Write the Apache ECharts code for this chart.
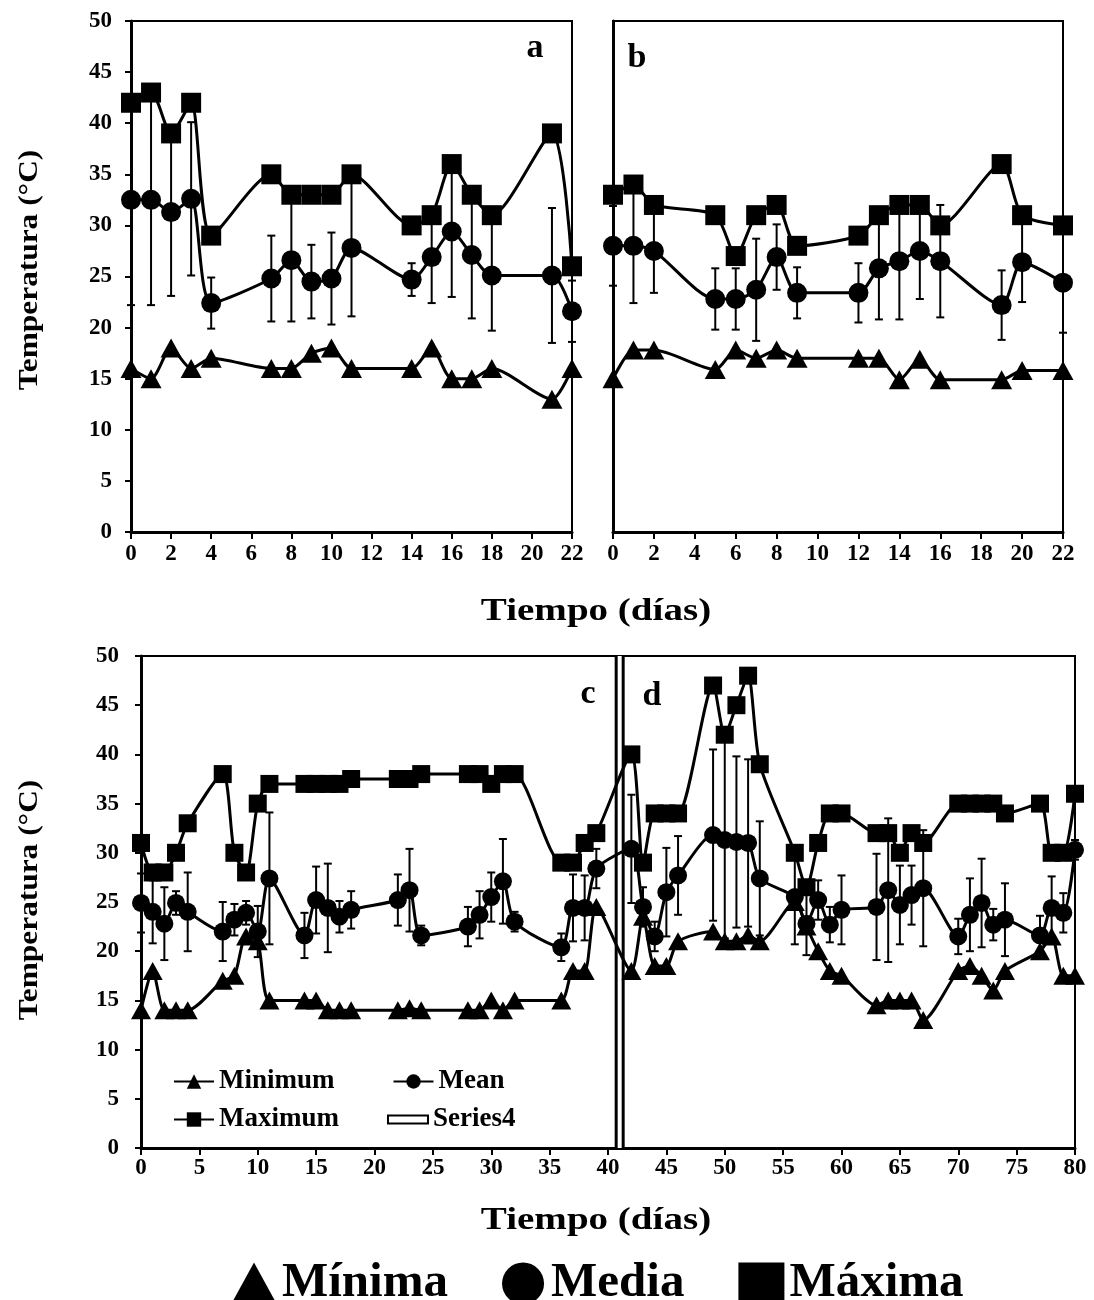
<!DOCTYPE html>
<html>
<head>
<meta charset="utf-8">
<script src="https://cdn.jsdelivr.net/npm/echarts/dist/echarts.min.js"></script>
<style>
  body { margin: 0; background: #fff; }
  #main { width: 1094px; height: 1300px; }
</style>
</head>
<body>
<div id="main"></div>
<script>
// panel a
var aDays = [0, 1, 2, 3, 4, 7, 8, 9, 10, 11, 14, 15, 16, 17, 18, 21, 22];
var aMin  = [16, 15, 18, 16, 17, 16, 16, 17.5, 18, 16, 16, 18, 15, 15, 16, 13, 16];
var aMean = [32.5, 32.5, 31.3, 32.6, 22.4, 24.8, 26.6, 24.5, 24.8, 27.8, 24.7, 26.9, 29.4, 27.1, 25.1, 25.1, 21.6];
var aMax  = [42, 43, 39, 42, 29, 35, 33, 33, 33, 35, 30, 31, 36, 33, 31, 39, 26];
var aSd   = [10.3, 10.3, 8.2, 7.5, 2.5, 4.2, 6, 3.6, 4.5, 6.7, 1.6, 4.5, 6.4, 6.2, 5.4, 6.6, 3];

// panel b
var bDays = [0, 1, 2, 5, 6, 7, 8, 9, 12, 13, 14, 15, 16, 19, 20, 22];
var bMin  = [15, 17.8, 17.8, 15.9, 17.8, 17, 17.8, 17, 17, 17, 14.9, 16.9, 14.9, 14.9, 15.8, 15.8];
var bMean = [28, 28, 27.5, 22.8, 22.8, 23.7, 26.9, 23.4, 23.4, 25.8, 26.5, 27.5, 26.5, 22.2, 26.4, 24.4];
var bMax  = [33, 34, 32, 31, 27, 31, 32, 28, 29, 31, 32, 32, 30, 36, 31, 30];
var bSd   = [3.9, 5.6, 4.1, 3, 3, 5, 3.2, 2.5, 2.9, 5, 5.7, 4.7, 5.5, 3.4, 3.9, 4.9];

// panels c + d (shared axis)
var cdDays = [0, 1, 2, 3, 4, 7, 8, 9, 10, 11, 14, 15, 16, 17, 18, 22, 23, 24, 28, 29, 30, 31, 32,
  36, 37, 38, 39, 42, 43, 44, 45, 46, 49, 50, 51, 52, 53, 56, 57, 58, 59, 60,
  63, 64, 65, 66, 67, 70, 71, 72, 73, 74, 77, 78, 79, 80];
var cdMin = [14, 18, 14, 14, 14, 17, 17.5, 21.5, 21, 15, 15, 15, 14, 14, 14, 14, 14.2, 14, 14, 14, 15, 14, 15,
  15, 18, 18, 24.5, 18, 23.5, 18.5, 18.5, 21, 22, 21, 21, 21.6, 21, 25, 22.5, 20, 18, 17.5,
  14.5, 15, 15, 15, 13, 18, 18.5, 17.5, 16, 18, 20, 21.5, 17.5, 17.5];
var cdMean = [24.9, 24.0, 22.8, 24.9, 24.0, 22.0, 23.2, 23.9, 22.0, 27.4, 21.6, 25.2, 24.4, 23.5, 24.2, 25.2, 26.2, 21.6,
  22.5, 23.7, 25.5, 27.1, 23.0, 20.4, 24.4, 24.4, 28.4, 30.4, 24.5, 21.5, 26.0, 27.7, 31.8, 31.3, 31.1, 31.0, 27.4,
  25.5, 22.8, 25.2, 22.7, 24.2, 24.5, 26.2, 24.7, 25.7, 26.4, 21.5, 23.7, 24.9, 22.7, 23.2, 21.6, 24.4, 23.9, 30.3];
var cdMax = [31, 28, 28, 30, 33, 38, 30, 28, 35, 37, 37, 37, 37, 37, 37.5, 37.5, 37.5, 38, 38, 38, 37, 38, 38,
  29, 29, 31, 32, 40, 29, 34, 34, 34, 47, 42, 45, 48, 39, 30, 26.5, 31, 34, 34,
  32, 32, 30, 32, 31, 35, 35, 35, 35, 34, 35, 30, 30, 36];
var cdSd = [3, 3.2, 3.7, 1.2, 4, 3, 1.6, 1.2, 2.6, 6.7, 2.3, 3.4, 4.5, 1.6, 1.9, 2.6, 4.2, 1, 2, 2.4, 2.5, 4.3, 1,
  1.4, 3.4, 3.3, 2, 5.5, 2, 1.5, 4.5, 4, 8.7, 10, 8.7, 8.5, 5.8, 4.8, 3.2, 2, 1.8, 3.5,
  5.4, 7.3, 4, 3, 5.9, 1.8, 3.7, 4.5, 1.6, 3.7, 2, 3.2, 2, 1];

// Series4: the divider between c and d
var s4Days = [41, 41];
var s4Vals = [0, 50];

var FONT = 'Liberation Serif';

function pairs(xs, ys) {
  return xs.map(function (x, i) { return [x, ys[i]]; });
}
function bars(xs, mean, sd) {
  return xs.map(function (x, i) { return [x, mean[i] - sd[i], mean[i] + sd[i]]; });
}

function errorItem(params, api) {
  var x = api.value(0);
  var top = api.coord([x, api.value(2)]);
  var bot = api.coord([x, api.value(1)]);
  var w = 4;
  var st = { stroke: '#000', lineWidth: 2 };
  return {
    type: 'group',
    children: [
      { type: 'line', shape: { x1: top[0], y1: top[1], x2: bot[0], y2: bot[1] }, style: st },
      { type: 'line', shape: { x1: top[0] - w, y1: top[1], x2: top[0] + w, y2: top[1] }, style: st },
      { type: 'line', shape: { x1: bot[0] - w, y1: bot[1], x2: bot[0] + w, y2: bot[1] }, style: st }
    ]
  };
}

function line(name, sym, size, data, gi) {
  return {
    name: name, type: 'line', xAxisIndex: gi, yAxisIndex: gi,
    data: data, symbol: sym, symbolSize: size, smooth: 0.25,
    itemStyle: { color: '#000' },
    lineStyle: { color: '#000', width: 3 },
    z: 2
  };
}
function errs(data, gi) {
  return {
    type: 'custom', xAxisIndex: gi, yAxisIndex: gi,
    renderItem: errorItem, data: data, encode: { x: 0, y: [1, 2] }, z: 3
  };
}

var lbl = { color: '#000', fontFamily: FONT, fontWeight: 'bold', fontSize: 23 };
var axLine = { show: true, lineStyle: { color: '#000', width: 3 } };

function xAx(gi, max, interval, margin) {
  return {
    type: 'value', gridIndex: gi, min: 0, max: max, interval: interval,
    axisLine: axLine, splitLine: { show: false },
    axisTick: { show: true, length: 7, lineStyle: { color: '#000', width: 2 } },
    axisLabel: Object.assign({ margin: margin }, lbl)
  };
}
function yAx(gi, showLabels, margin) {
  return {
    type: 'value', gridIndex: gi, min: 0, max: 50, interval: 5,
    axisLine: axLine, splitLine: { show: false },
    axisTick: { show: showLabels, length: 6, inside: false, lineStyle: { color: '#000', width: 2 } },
    axisLabel: Object.assign({ show: showLabels, margin: margin }, lbl)
  };
}

var chart = echarts.init(document.getElementById('main'));

var series = [
  errs(bars(aDays, aMean, aSd), 0),
  line('Mínima', 'triangle', [21, 19], pairs(aDays, aMin), 0),
  line('Media', 'circle', 20, pairs(aDays, aMean), 0),
  line('Máxima', 'rect', 20, pairs(aDays, aMax), 0),

  errs(bars(bDays, bMean, bSd), 1),
  line('Mínima', 'triangle', [21, 19], pairs(bDays, bMin), 1),
  line('Media', 'circle', 20, pairs(bDays, bMean), 1),
  line('Máxima', 'rect', 20, pairs(bDays, bMax), 1),

  {
    name: 'Series4', type: 'line', xAxisIndex: 2, yAxisIndex: 2,
    data: pairs(s4Days, s4Vals), symbol: 'none',
    lineStyle: { color: '#000', width: 10 }, itemStyle: { color: '#000' }, z: 1
  },
  {
    name: 'Series4', type: 'line', xAxisIndex: 2, yAxisIndex: 2,
    data: pairs(s4Days, s4Vals), symbol: 'none',
    lineStyle: { color: '#fff', width: 4 }, itemStyle: { color: '#fff' }, z: 1
  },
  errs(bars(cdDays, cdMean, cdSd), 2),
  line('Minimum', 'triangle', [20, 18], pairs(cdDays, cdMin), 2),
  line('Mean', 'circle', 18, pairs(cdDays, cdMean), 2),
  line('Maximum', 'rect', 18, pairs(cdDays, cdMax), 2)
];

var boldText = function (text, x, y, size, extra) {
  return Object.assign({
    type: 'text', x: x, y: y,
    style: {
      text: text, fill: '#000', font: 'bold ' + size + 'px "' + FONT + '"',
      textAlign: 'center', textVerticalAlign: 'middle'
    }
  }, extra || {});
};

var option = {
  animation: false,
  backgroundColor: '#fff',
  grid: [
    { left: 131, top: 21, width: 441, height: 511, show: true, borderColor: '#000', borderWidth: 2 },
    { left: 613, top: 21, width: 450, height: 511, show: true, borderColor: '#000', borderWidth: 2 },
    { left: 141, top: 656, width: 934, height: 492, show: true, borderColor: '#000', borderWidth: 2 }
  ],
  xAxis: [xAx(0, 22, 2, 11), xAx(1, 22, 2, 11), xAx(2, 80, 5, 9)],
  yAxis: [yAx(0, true, 19), yAx(1, false, 19), yAx(2, true, 22)],
  legend: [
    {
      left: 226, top: 1254, itemWidth: 46, itemHeight: 42, itemGap: 54,
      textStyle: { color: '#000', fontFamily: FONT, fontWeight: 'bold', fontSize: 49 },
      data: [
        { name: 'Mínima', icon: 'triangle' },
        { name: 'Media', icon: 'circle' },
        { name: 'Máxima', icon: 'rect' }
      ],
      selectedMode: false
    },
    {
      left: 168, top: 1063, itemWidth: 40, itemHeight: 18, itemGap: 58,
      textStyle: { color: '#000', fontFamily: FONT, fontWeight: 'bold', fontSize: 27 },
      data: ['Minimum', 'Mean'], selectedMode: false
    },
    {
      left: 168, top: 1101, itemWidth: 40, itemHeight: 18, itemGap: 48,
      textStyle: { color: '#000', fontFamily: FONT, fontWeight: 'bold', fontSize: 27 },
      data: ['Maximum', {
        name: 'Series4', icon: 'path://M0,0 L40,0 L40,8 L0,8 Z',
        itemStyle: { color: '#fff', borderColor: '#000', borderWidth: 2 }
      }],
      selectedMode: false
    }
  ],
  graphic: [
    boldText('a', 535, 48, 34),
    boldText('b', 637, 58, 34),
    boldText('c', 588, 694, 34),
    boldText('d', 652, 696, 34),
    boldText('Temperatura (°C)', 30, 270, 28, { rotation: Math.PI / 2, scaleX: 1.12 }),
    boldText('Temperatura (°C)', 30, 900, 28, { rotation: Math.PI / 2, scaleX: 1.12 }),
    boldText('Tiempo (días)', 596, 612, 32, { scaleX: 1.22 }),
    boldText('Tiempo (días)', 596, 1221, 32, { scaleX: 1.22 })
  ],
  series: series
};

chart.setOption(option);
</script>
</body>
</html>
